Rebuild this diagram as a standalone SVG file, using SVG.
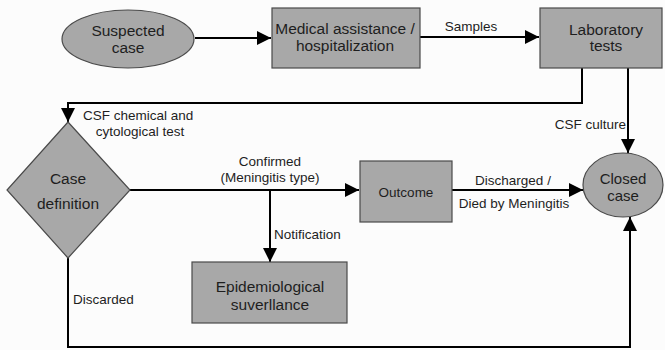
<svg xmlns="http://www.w3.org/2000/svg" width="665" height="350" viewBox="0 0 665 350">
  <defs>
    <marker id="arrow" viewBox="0 0 10 10" refX="10" refY="5" markerWidth="14" markerHeight="14" markerUnits="userSpaceOnUse" orient="auto">
      <path d="M0,0 L10,5 L0,10 Z" fill="#000"/>
    </marker>
  </defs>
  <style>
    .shape { fill: #a8a8a8; stroke: #4a4a4a; stroke-width: 1.2; }
    .node { font-family: "Liberation Sans", Arial, sans-serif; font-size: 15.5px; fill: #1e1e1e; text-anchor: middle; }
    .label { font-family: "Liberation Sans", Arial, sans-serif; font-size: 13.5px; fill: #1e1e1e; }
    .edge { fill: none; stroke: #000; stroke-width: 2; }
  </style>
  <rect width="665" height="350" fill="#fcfcfc"/>

  <g id="connectors">
    <path class="edge" d="M195,38 H271" marker-end="url(#arrow)"/>
    <path class="edge" d="M420,37 H539" marker-end="url(#arrow)"/>
    <path class="edge" d="M582,68 V103 H68 V122" marker-end="url(#arrow)"/>
    <path class="edge" d="M628,68 V153" marker-end="url(#arrow)"/>
    <path class="edge" d="M130,190 H359" marker-end="url(#arrow)"/>
    <path class="edge" d="M270,190 V262" marker-end="url(#arrow)"/>
    <path class="edge" d="M452,190 H583" marker-end="url(#arrow)"/>
    <path class="edge" d="M68,258 V347 H630 V217" marker-end="url(#arrow)"/>

    <text class="label" x="471" y="31" text-anchor="middle">Samples</text>
    <text class="label" x="83" y="120">CSF chemical and</text>
    <text class="label" x="140" y="136" text-anchor="middle">cytological test</text>
    <text class="label" x="626" y="129" text-anchor="end">CSF culture</text>
    <text class="label" x="270" y="166" text-anchor="middle">Confirmed</text>
    <text class="label" x="270" y="182" text-anchor="middle">(Meningitis type)</text>
    <text class="label" x="274" y="239">Notification</text>
    <text class="label" x="513" y="185" text-anchor="middle">Discharged /</text>
    <text class="label" x="514" y="208" text-anchor="middle">Died by Meningitis</text>
    <text class="label" x="73" y="304">Discarded</text>
  </g>

  <g id="suspected-case">
    <ellipse class="shape" cx="128" cy="39" rx="66" ry="29"/>
    <text class="node" x="128" y="36">Suspected</text>
    <text class="node" x="128" y="53">case</text>
  </g>

  <g id="medical-assistance">
    <rect class="shape" x="272" y="8" width="148" height="60"/>
    <text class="node" x="345" y="34">Medical assistance /</text>
    <text class="node" x="345" y="51">hospitalization</text>
  </g>

  <g id="laboratory-tests">
    <rect class="shape" x="540" y="8" width="122" height="60"/>
    <text class="node" x="606" y="35">Laboratory</text>
    <text class="node" x="606" y="51">tests</text>
  </g>

  <g id="case-definition">
    <polygon class="shape" points="68,122 130,190 68,258 7,190"/>
    <text class="node" x="68" y="184">Case</text>
    <text class="node" x="68" y="209">definition</text>
  </g>

  <g id="outcome">
    <rect class="shape" x="360" y="161" width="92" height="61"/>
    <text class="node" x="406" y="197" style="font-size:13.5px">Outcome</text>
  </g>

  <g id="epidemiological-surveillance">
    <rect class="shape" x="192" y="262" width="155" height="61"/>
    <text class="node" x="270" y="292">Epidemiological</text>
    <text class="node" x="270" y="310">suverllance</text>
  </g>

  <g id="closed-case">
    <ellipse class="shape" cx="623" cy="185" rx="40" ry="32"/>
    <text class="node" x="623" y="184" style="font-size:15px">Closed</text>
    <text class="node" x="623" y="201" style="font-size:15px">case</text>
  </g>
</svg>
